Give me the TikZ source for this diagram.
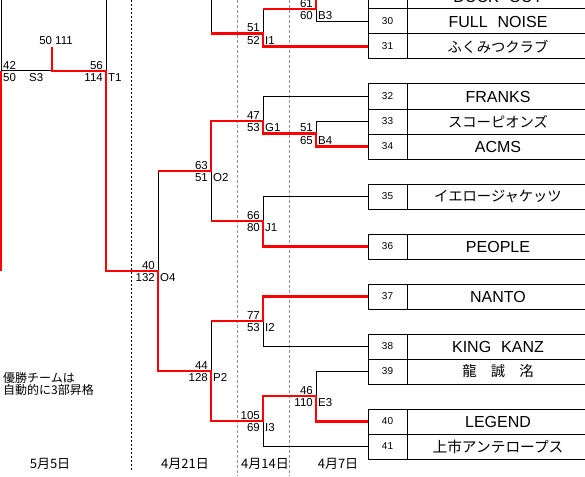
\documentclass[tikz,border=0pt]{standalone}
\usepackage{fontspec}
\setmainfont{Liberation Sans}
\newfontfamily\jpfont{Noto Sans CJK JP}
\newcommand\JP[1]{{\jpfont\fontsize{14.3}{14.3}\selectfont #1}}
\newcommand\MatchLab[4]{%
  \node[score,anchor=south east] (#1a) at ([xshift=-3pt,yshift=1.5pt]#1) {#2};
  \node[score,anchor=north east] (#1b) at ([xshift=-3pt,yshift=-2.5pt]#1) {#3};
  \node[score,anchor=north west] (#1c) at ([xshift=2pt,yshift=-2.5pt]#1) {#4};}
\newcommand\Team[3]{%
  \node[numbox] (t#1) at (387.5,#2) {#1};
  \node[namebox] (m#1) at (t#1.east) {#3};}
\begin{document}
\begin{tikzpicture}[x=1pt,y=-1pt,
  blk/.style={draw=black,line width=1pt},
  win/.style={draw=red,line width=2.2pt},
  score/.style={inner sep=0pt,font=\fontsize{11.5}{11.5}\selectfont},
  numbox/.style={draw,line width=1pt,minimum width=39pt,minimum height=25pt,inner sep=0pt,outer sep=0pt,font=\fontsize{10}{10}\selectfont},
  namebox/.style={draw,line width=1pt,minimum width=182pt,minimum height=25pt,inner sep=0pt,outer sep=0pt,anchor=west,font=\fontsize{16}{16}\selectfont},
  datelab/.style={inner sep=0pt,font=\jpfont\fontsize{13}{13}\selectfont},
  dashblack/.style={draw=black,line width=0.8pt,dash pattern=on 2pt off 2pt},
  dashgray/.style={draw=gray!85,line width=1pt,dash pattern=on 3pt off 2pt}]
\useasboundingbox (0,0) rectangle (585,476);
\fill[white] (0,0) rectangle (585,476);
\clip (0,0) rectangle (585,476);

% round separators
\draw[dashblack] (131,0) -- (131,470);
\draw[dashgray] (237.5,0) -- (237.5,476);
\draw[dashgray] (289,0) -- (289,476);

% teams
\Team{29}{-3.5}{DUCK\hspace{10pt}OUT}
\Team{30}{21.5}{FULL\hspace{10pt}NOISE}
\Team{31}{46.5}{\JP{ふくみつクラブ}}
\Team{32}{96.5}{FRANKS}
\Team{33}{121.5}{\JP{スコーピオンズ}}
\Team{34}{146.5}{ACMS}
\Team{35}{196.5}{\JP{イエロージャケッツ}}
\Team{36}{246.5}{PEOPLE}
\Team{37}{296.5}{NANTO}
\Team{38}{346.5}{KING\hspace{10pt}KANZ}
\Team{39}{371.5}{\JP{龍　誠　洺}}
\Team{40}{421.5}{LEGEND}
\Team{41}{446.5}{{\jpfont\fontsize{14.7}{14.7}\selectfont 上市アンテロープス}}

% match junctions
\coordinate (B3) at (316,9);
\coordinate (I1) at (263,33.5);
\coordinate (U)  at (211,-20);
\coordinate (B4) at (316,133.5);
\coordinate (G1) at (263,121);
\coordinate (J1) at (263,221);
\coordinate (O2) at (211,171);
\coordinate (O4) at (158,271);
\coordinate (I2) at (263,321);
\coordinate (P2) at (211,371);
\coordinate (E3) at (316,396);
\coordinate (I3) at (263,421);
\coordinate (T1) at (106,71);
\coordinate (T1top) at (106,-20);
\coordinate (S3) at (1,71);
\coordinate (S3top) at (1,-20);
\coordinate (S3bot) at (1,271);
\coordinate (F) at (52,71);
\coordinate (Ftop) at (52,47);

% losing paths (black)
\draw[blk] (t30.west) -- (t30.west -| B3) -- (B3);
\draw[blk] (I1 |- B3) -- (I1);
\draw[blk] (U) -- (U |- I1);
\draw[blk] (t32.west) -- (t32.west -| G1) -- (G1);
\draw[blk] (t33.west) -- (t33.west -| B4) -- (B4);
\draw[blk] (O2) -- (O2 |- J1);
\draw[blk] (t35.west) -- (t35.west -| J1) -- (J1);
\draw[blk] (O4 |- O2) -- (O4);
\draw[blk] (t38.west) -- (t38.west -| I2) -- (I2);
\draw[blk] (P2 |- I2) -- (P2);
\draw[blk] (t39.west) -- (t39.west -| E3) -- (E3);
\draw[blk] (t41.west) -- (t41.west -| I3) -- (I3);
\draw[blk] (T1top) -- (T1);
\draw[blk] (S3top) -- (S3) -- (F);

% winning paths (red)
\draw[win] (t29.west) -- (t29.west -| B3) -- (B3) -- (I1 |- B3);
\draw[win] (t31.west) -- (t31.west -| I1) -- (I1) -- (U |- I1);
\draw[win] (t34.west) -- (t34.west -| B4) -- (B4) -- (G1 |- B4) -- (G1) -- (O2 |- G1) -- (O2) -- (O4 |- O2);
\draw[win] (t36.west) -- (t36.west -| J1) -- (J1) -- (O2 |- J1);
\draw[win] (t37.west) -- (t37.west -| I2) -- (I2) -- (P2 |- I2);
\draw[win] (t40.west) -- (t40.west -| E3) -- (E3) -- (I3 |- E3) -- (I3) -- (P2 |- I3) -- (P2) -- (O4 |- P2) -- (O4) -- (T1 |- O4) -- (T1) -- (F) -- (Ftop);
\draw[win] (S3) -- (S3bot);

% scores
\MatchLab{B3}{61}{60}{B3}
\MatchLab{I1}{51}{52}{I1}
\MatchLab{B4}{51}{65}{B4}
\MatchLab{G1}{47}{53}{G1}
\MatchLab{J1}{66}{80}{J1}
\MatchLab{O2}{63}{51}{O2}
\MatchLab{O4}{40}{132}{O4}
\MatchLab{I2}{77}{53}{I2}
\MatchLab{P2}{44}{128}{P2}
\MatchLab{E3}{46}{110}{E3}
\MatchLab{I3}{105}{69}{I3}
\MatchLab{T1}{56}{114}{T1}
\node[score,anchor=south west] (S3a) at ([xshift=2pt,yshift=1.5pt]S3) {42};
\node[score,anchor=north west] (S3b) at ([xshift=2pt,yshift=-2.5pt]S3) {50};
\node[score,anchor=north west] (S3c) at ([xshift=28pt,yshift=-2.5pt]S3) {S3};
\node[score,anchor=south] (Fs) at ([xshift=4pt,yshift=2pt]Ftop) {50 111};

% note and dates
\node[inner sep=0pt,anchor=north west,align=left,font=\jpfont\fontsize{12}{12.5}\selectfont] (note) at (3,372) {優勝チームは\\自動的に3部昇格};
\node[datelab] (d1) at (50,464) {5月5日};
\node[datelab] (d2) at (185,464) {4月21日};
\node[datelab] (d3) at (265,464) {4月14日};
\node[datelab] (d4) at (338,464) {4月7日};
\end{tikzpicture}
\end{document}
